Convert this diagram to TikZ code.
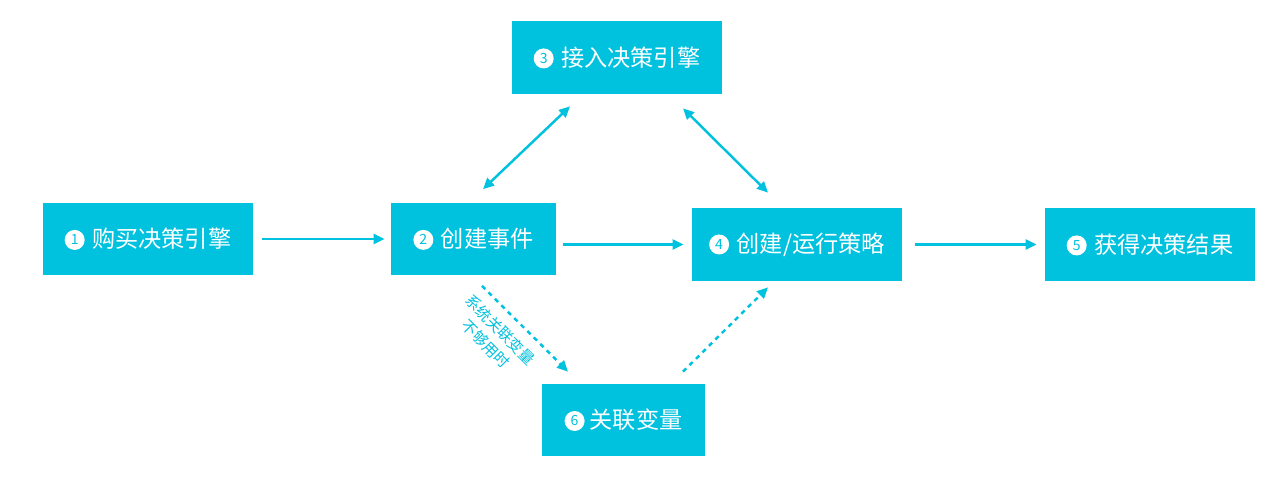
\documentclass[tikz,border=0pt]{standalone}
\usepackage{fontspec}
\setmainfont{Noto Sans CJK SC}
\usepackage{tikz}
\usetikzlibrary{arrows.meta,calc}
\definecolor{Cian}{HTML}{00C1DE}
\newcommand{\badge}[1]{\tikz[baseline={([yshift=-4.4pt]n.center)}]\node[circle,fill=white,draw=none,text=Cian,inner sep=0pt,minimum width=0.4cm,minimum height=0.4cm,font=\fontsize{8}{8}\selectfont] (n) {#1};}

\begin{document}
\begin{tikzpicture}[x=0.02cm,y=-0.02cm,>={Triangle[length=0.22cm,width=0.2cm]},
  caja/.style={fill=Cian,text=white,minimum height=1.46cm,inner sep=0pt,font=\fontsize{13.2}{15}\selectfont},
  flecha/.style={->,Cian,line width=1.4pt},
  punteada/.style={flecha,dash pattern=on 2.6pt off 2.6pt}]
  \fill[white] (0,0) rectangle (1280,479);
  \useasboundingbox (0,0) rectangle (1280,479);
  % cajas
  \node[caja,minimum width=4.2cm] (compra) at (148,239) {\badge{1}\hspace{0.15cm}购买决策引擎};
  \node[caja,minimum width=3.3cm] (evento) at (473.5,239) {\badge{2}\hspace{0.15cm}创建事件};
  \node[caja,minimum width=4.2cm] (motor) at (617,57.5) {\badge{3}\hspace{0.15cm}接入决策引擎};
  \node[caja,minimum width=4.2cm] (estrategia) at (797,244.5) {\badge{4}\hspace{0.15cm}创建/运行策略};
  \node[caja,minimum width=4.2cm] (resultado) at (1150,244.5) {\badge{5}\hspace{0.15cm}获得决策结果};
  \node[caja,minimum width=3.26cm] (variable) at (623.5,420) {\badge{6}\hspace{0.1cm}关联变量};
  % flechas
  \draw[flecha,shorten <=0.18cm,shorten >=0.12cm] (compra) -- (evento);
  \draw[flecha,shorten <=0.14cm,shorten >=0.16cm] (evento.east |- estrategia) -- (estrategia.west);
  \draw[flecha,shorten <=0.26cm,shorten >=0.16cm] (estrategia) -- (resultado);
  \draw[flecha,<->] ($(evento.north)+(9.5,-13)$) -- ($(motor.south)+(-47,12)$);
  \draw[flecha,<->] ($(motor.south)+(66,14)$) -- ($(estrategia.north)+(-29,-15)$);
  \draw[punteada] ($(evento.south)+(8.5,10)$) -- ($(variable.north)+(-55.5,-11.5)$);
  \draw[punteada] ($(variable.north)+(59.5,-11.5)$) -- ($(estrategia.south)+(-29,6)$);
  \node[text=Cian,rotate=-45,align=center,font=\fontsize{8.6}{11.5}\selectfont] (nota) at (493,337)
    {系统关联变量\\不够用时};
\end{tikzpicture}
\end{document}
